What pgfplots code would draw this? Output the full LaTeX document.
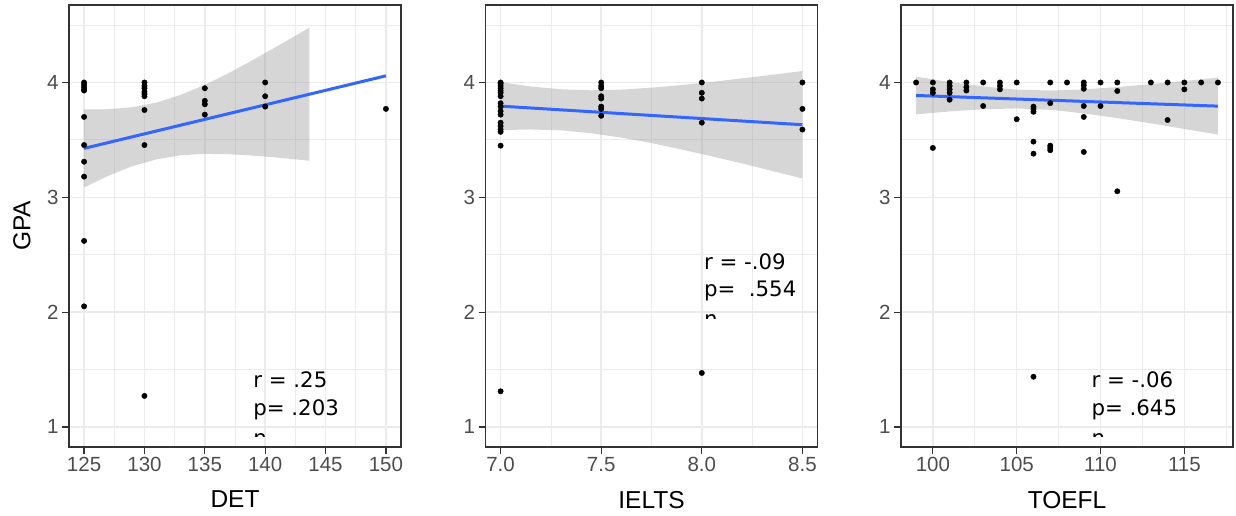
\documentclass[border=0pt]{standalone}
\usepackage{fontspec}
\setmainfont{Liberation Sans}
\newfontfamily\annfont{DejaVu Sans}
\usepackage{pgfplots}
\pgfplotsset{compat=1.18}
\usepgfplotslibrary{fillbetween}
\definecolor{gridc}{HTML}{EBEBEB}
\definecolor{tickc}{HTML}{4D4D4D}
\definecolor{bordc}{HTML}{333333}
\definecolor{lineblue}{HTML}{3366FF}
\definecolor{ribc}{HTML}{999999}
\pgfplotsset{ggpanel/.style={
  scale only axis, width=332bp, height=442bp, anchor=south west,
  ymin=0.825, ymax=4.675, ytick={1,2,3,4}, minor ytick={1.5,2.5,3.5,4.5},
  grid=both,
  major grid style={gridc, line width=1.5bp},
  minor grid style={gridc, line width=0.8bp},
  tick align=outside, major tick length=7bp, minor tick length=0pt,
  tick pos=left,
  major tick style={bordc, line width=1.2bp},
  axis line style={bordc, line width=1.2bp},
  ticklabel style={font=\fontsize{20.5bp}{24bp}\selectfont, text=tickc},
  /pgf/number format/assume math mode=true,
  label style={font=\fontsize{24.5bp}{28bp}\selectfont},
  xlabel style={at={(axis description cs:0.5,-0.0989)}, anchor=north, inner sep=0pt},
  clip=true,
}}
\tikzset{ann/.style={anchor=base west, inner sep=0pt, font=\annfont\fontsize{21.3bp}{28bp}\selectfont}}
\begin{document}
\begin{tikzpicture}
% ---------------- DET
\begin{axis}[ggpanel, at={(69bp,69bp)},
  xmin=123.75, xmax=151.25, xtick={125,130,...,150}, minor xtick={127.5,132.5,...,147.5},
  xlabel={DET}, ylabel={GPA},
  ylabel style={at={(axis description cs:-0.115,0.5)}, anchor=south, inner sep=0pt}]
\addplot[only marks, mark=*, mark size=2.7bp, black] coordinates {
(125,4.00)(125,3.98)(125,3.96)(125,3.94)(125,3.93)(125,3.70)(125,3.455)(125,3.31)(125,3.18)(125,2.62)(125,2.05)
(130,4.00)(130,3.97)(130,3.95)(130,3.92)(130,3.90)(130,3.88)(130,3.76)(130,3.455)(130,1.27)
(135,3.95)(135,3.84)(135,3.81)(135,3.72)
(140,4.00)(140,3.88)(140,3.79)
(150,3.77)};
\addplot[name path=up1, draw=none, forget plot] coordinates {
(125,3.766)(127,3.767)(129,3.785)(131,3.825)(133,3.892)(135,3.980)(137,4.083)(139,4.197)(141,4.316)(143,4.437)(143.66,4.478)};
\addplot[name path=lo1, draw=none, forget plot] coordinates {
(125,3.086)(127,3.187)(129,3.271)(131,3.331)(133,3.366)(135,3.378)(137,3.375)(139,3.363)(141,3.346)(143,3.325)(143.66,3.318)};
\addplot[fill=ribc, fill opacity=0.4, draw=none] fill between[of=up1 and lo1];
\addplot[lineblue, line width=3bp] coordinates {(125,3.426)(150,4.058)};
\node[ann] at (axis cs:139,1.346) {r = .25};
\node[ann] at (axis cs:139,1.099) {p= .203};
\begin{scope}
\clip (axis cs:135,0.918) rectangle (axis cs:150,1.05);
\node[ann] at (axis cs:139,0.842) {n};
\end{scope}
\end{axis}
% ---------------- IELTS
\begin{axis}[ggpanel, at={(485.5bp,69bp)},
  xmin=6.925, xmax=8.575, xtick={7,7.5,8,8.5}, minor xtick={7.25,7.75,8.25},
  xticklabel style={/pgf/number format/.cd, fixed, fixed zerofill, precision=1},
  xlabel={IELTS}]
\addplot[only marks, mark=*, mark size=2.7bp, black] coordinates {
(7,4.00)(7,3.99)(7,3.97)(7,3.95)(7,3.93)(7,3.91)(7,3.88)(7,3.82)(7,3.79)(7,3.75)(7,3.72)(7,3.65)(7,3.62)(7,3.59)(7,3.57)(7,3.45)(7,1.31)
(7.5,4.00)(7.5,3.97)(7.5,3.95)(7.5,3.88)(7.5,3.86)(7.5,3.79)(7.5,3.77)(7.5,3.71)
(8,4.00)(8,3.91)(8,3.86)(8,3.65)(8,1.47)
(8.5,4.00)(8.5,3.77)(8.5,3.59)};
\addplot[name path=up2, draw=none, forget plot] coordinates {
(7.0,4.003)(7.15,3.965)(7.3,3.941)(7.45,3.932)(7.6,3.938)(7.75,3.955)(7.9,3.978)(8.05,4.005)(8.2,4.036)(8.35,4.067)(8.5,4.100)};
\addplot[name path=lo2, draw=none, forget plot] coordinates {
(7.0,3.585)(7.15,3.591)(7.3,3.583)(7.45,3.558)(7.6,3.520)(7.75,3.472)(7.9,3.416)(8.05,3.357)(8.2,3.295)(8.35,3.229)(8.5,3.164)};
\addplot[fill=ribc, fill opacity=0.4, draw=none] fill between[of=up2 and lo2];
\addplot[lineblue, line width=3bp] coordinates {(7,3.794)(8.5,3.632)};
\node[ann] at (axis cs:8.01,2.373) {r = -.09};
\node[ann] at (axis cs:8.01,2.134) {p=\ \ .554};
\begin{scope}
\clip (axis cs:7.9,1.94) rectangle (axis cs:8.5,2.05);
\node[ann] at (axis cs:8.01,1.872) {n};
\end{scope}
\end{axis}
% ---------------- TOEFL
\begin{axis}[ggpanel, at={(901bp,69bp)},
  xmin=98.1, xmax=117.9, xtick={100,105,110,115}, minor xtick={102.5,107.5,112.5,117.5},
  xlabel={TOEFL}]
\addplot[only marks, mark=*, mark size=2.7bp, black] coordinates {
(99,4.00)
(100,4.00)(100,3.94)(100,3.91)(100,3.43)
(101,4.00)(101,3.97)(101,3.94)(101,3.91)(101,3.85)
(102,4.00)(102,3.96)(102,3.93)
(103,4.00)(103,3.795)
(104,4.00)(104,3.97)(104,3.94)
(105,4.00)(105,3.68)
(106,3.79)(106,3.77)(106,3.745)(106,3.485)(106,3.38)(106,1.437)
(107,4.00)(107,3.82)(107,3.45)(107,3.43)(107,3.41)
(108,4.00)
(109,4.00)(109,3.975)(109,3.945)(109,3.795)(109,3.70)(109,3.395)
(110,4.00)(110,3.795)
(111,4.00)(111,3.926)(111,3.052)
(113,4.00)
(114,4.00)(114,3.673)
(115,4.00)(115,3.94)
(116,4.00)
(117,4.00)};
\addplot[name path=up3, draw=none, forget plot] coordinates {
(99,4.051)(101,4.005)(103,3.966)(105,3.938)(107,3.930)(109,3.940)(111,3.960)(113,3.986)(115,4.013)(117,4.042)};
\addplot[name path=lo3, draw=none, forget plot] coordinates {
(99,3.723)(101,3.748)(103,3.767)(105,3.774)(107,3.762)(109,3.731)(111,3.690)(113,3.644)(115,3.595)(117,3.546)};
\addplot[fill=ribc, fill opacity=0.4, draw=none] fill between[of=up3 and lo3];
\addplot[lineblue, line width=3bp] coordinates {(99,3.887)(117,3.794)};
\node[ann] at (axis cs:109.45,1.346) {r = -.06};
\node[ann] at (axis cs:109.45,1.099) {p= .645};
\begin{scope}
\clip (axis cs:108,0.918) rectangle (axis cs:115,1.05);
\node[ann] at (axis cs:109.45,0.842) {n};
\end{scope}
\end{axis}
\pgfresetboundingbox
\useasboundingbox (0,0) rectangle (1236bp,516bp);
\end{tikzpicture}
\end{document}
